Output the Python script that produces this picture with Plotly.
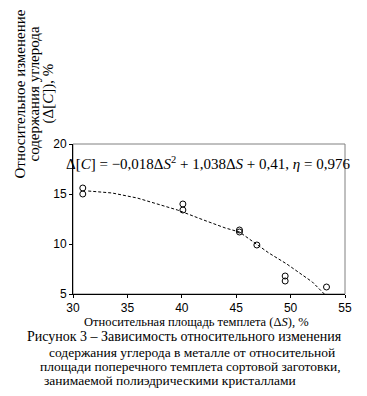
import plotly.graph_objects as go

# Experimental points: relative template area ΔS (%) vs relative carbon change Δ[C] (%)
point_x = [30.9, 30.9, 40.1, 40.1, 45.3, 45.3, 46.9, 49.5, 49.5, 53.3]
point_y = [15.6, 15.0, 14.0, 13.4, 11.4, 11.2, 9.9, 6.8, 6.3, 5.7]

# Fitted trend line
curve_x = [31.4, 33.6, 35.9, 37.8, 39.6, 42.0, 44.0, 45.3, 46.8, 48.0, 49.65, 51.0, 52.0, 53.1]
curve_y = [15.3, 15.1, 14.6, 14.0, 13.4, 12.4, 11.6, 11.2, 10.0, 9.1, 8.0, 7.0, 6.2, 5.0]

x_ticks = [30, 35, 40, 45, 50, 55]
y_ticks = [5, 10, 15, 20]

equation = ("Δ[<i>C</i>] = −0,018Δ<i>S</i><sup>2</sup> + 1,038Δ<i>S</i> + 0,41, "
            "<i>η</i> = 0,976")
y_title_lines = ["Относительное изменение", "содержания углерода", "(Δ[<i>C</i>]), %"]
x_title = "Относительная площадь темплета (Δ<i>S</i>), %"
caption_lines = [
    "Рисунок 3 – Зависимость относительного изменения",
    "содержания углерода в металле от относительной",
    "площади поперечного темплета сортовой заготовки,",
    "занимаемой полиэдрическими кристаллами",
]

# The page body has an 8px default margin; work in window pixels and offset.
OFF = 8
WIN_W, WIN_H = 367, 396
W, H = WIN_W - OFF, WIN_H - OFF
L_win, R_win, T_win, B_win = 73, 345, 144, 294   # plot area in window pixels
L, T = L_win - OFF, T_win - OFF
R = W - (R_win - OFF)
B = H - (B_win - OFF)
PW, PH = W - L - R, H - T - B


def px(x):
    return (x - OFF - L) / PW


def py(y):
    return (H - B - (y - OFF)) / PH


serif = "Liberation Serif, Times New Roman, serif"
sans = "Liberation Sans, Arial, sans-serif"

fig = go.Figure()
fig.add_trace(go.Scatter(
    x=curve_x, y=curve_y, mode="lines",
    line=dict(color="black", width=1, dash="3px,2px"),
    hoverinfo="skip", showlegend=False))
fig.add_trace(go.Scatter(
    x=point_x, y=point_y, mode="markers",
    marker=dict(symbol="circle-open", size=6, color="black", line=dict(width=1)),
    showlegend=False))

ann = []
ann.append(dict(text=equation, x=px(208), y=py(163), xref="paper", yref="paper",
                showarrow=False, xanchor="center", yanchor="middle",
                font=dict(family=serif, size=15, color="black")))
title_x = [19.5, 33.5, 47.5]
for t, tx in zip(y_title_lines, title_x):
    ann.append(dict(text=t, x=px(tx), y=py(94), xref="paper", yref="paper",
                    showarrow=False, textangle=-90, xanchor="center", yanchor="middle",
                    font=dict(family=serif, size=15, color="black")))
ann.append(dict(text=x_title, x=px(196), y=py(322), xref="paper", yref="paper",
                showarrow=False, xanchor="center", yanchor="middle",
                font=dict(family=serif, size=12.5, color="black")))
cap_x = [25, 47, 38, 42]
cap_y = [336, 352, 366, 380]
cap_size = [14, 13.5, 13.5, 13.5]
for t, cx, cy, cs in zip(caption_lines, cap_x, cap_y, cap_size):
    ann.append(dict(text=t, x=px(cx), y=py(cy), xref="paper", yref="paper",
                    showarrow=False, xanchor="left", yanchor="middle",
                    font=dict(family=serif, size=cs, color="black")))

fig.update_layout(
    width=W, height=H,
    margin=dict(l=L, r=R, t=T, b=B, pad=0),
    paper_bgcolor="white", plot_bgcolor="white",
    annotations=ann,
    shapes=[dict(type="rect", xref="paper", yref="paper", x0=0, y0=0, x1=1, y1=1,
                 line=dict(color="#808080", width=1), layer="below")],
    xaxis=dict(range=[30, 55], tickvals=x_ticks, showgrid=False, zeroline=False,
               showline=True, linecolor="black", linewidth=1,
               ticks="outside", ticklen=3, tickcolor="black",
               tickfont=dict(family=sans, size=12, color="black")),
    yaxis=dict(range=[5, 20], tickvals=y_ticks, showgrid=False, zeroline=False,
               showline=True, linecolor="black", linewidth=1,
               ticks="outside", ticklen=3, tickcolor="black",
               tickfont=dict(family=sans, size=12, color="black")),
)

fig.write_html("out.html")
